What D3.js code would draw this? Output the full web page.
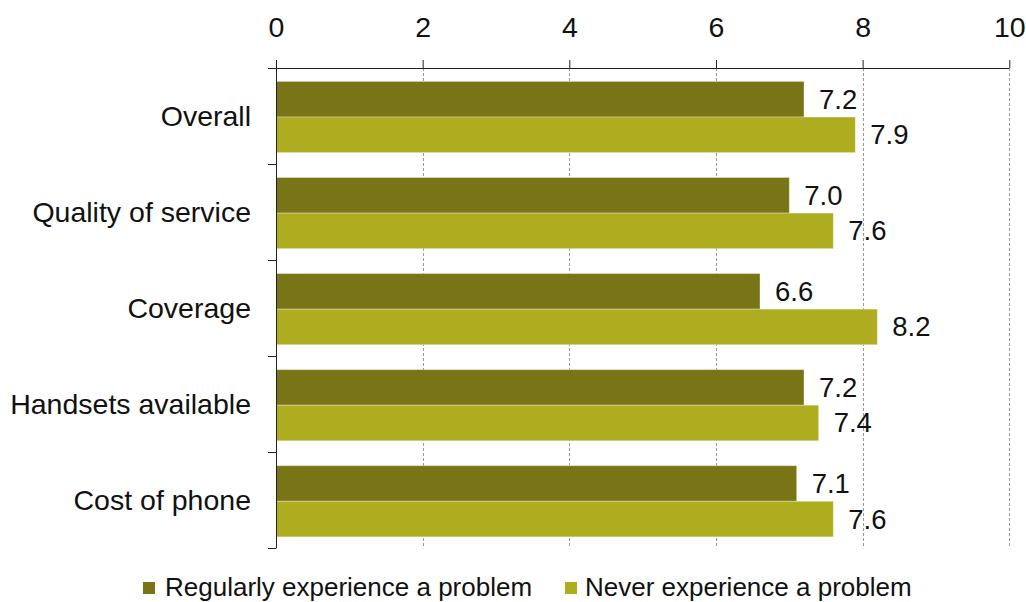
<!DOCTYPE html>
<html>
<head>
<meta charset="utf-8">
<script src="https://cdn.jsdelivr.net/npm/d3@7"></script>
<style>
  html, body { margin: 0; padding: 0; background: #fff; }
  svg { display: block; font-family: "Liberation Sans", Arial, sans-serif; }
</style>
</head>
<body>
<svg id="chart" width="1026" height="602"></svg>
<script>
// Satisfaction scores by aspect, split by problem experience
const categories = ["Overall", "Quality of service", "Coverage", "Handsets available", "Cost of phone"];
const seriesNames = ["Regularly experience a problem", "Never experience a problem"];
const regularlyValues = [7.2, 7.0, 6.6, 7.2, 7.1];
const neverValues = [7.9, 7.6, 8.2, 7.4, 7.6];
const tickValues = [0, 2, 4, 6, 8, 10];

const colors = ["#797516", "#adad1f"];
const seriesValues = [regularlyValues, neverValues];

const svg = d3.select("#chart");

const plot = { left: 276, right: 1009.3, top: 68, bottom: 548.3 };

const x = d3.scaleLinear().domain([0, 10]).range([plot.left, plot.right]);
const y0 = d3.scaleBand().domain(categories).range([plot.top, plot.bottom]).padding(0);
const y1 = d3.scaleBand().domain(seriesNames).range([0, y0.bandwidth()])
  .paddingInner(0).paddingOuter(0.35);

// dashed vertical gridlines
svg.append("g")
  .selectAll("line")
  .data(tickValues.filter(d => d > 0))
  .join("line")
  .attr("x1", d => Math.round(x(d)) + 0.5)
  .attr("x2", d => Math.round(x(d)) + 0.5)
  .attr("y1", plot.top)
  .attr("y2", plot.bottom)
  .attr("stroke", "#9a9a9a")
  .attr("stroke-width", 1)
  .attr("stroke-dasharray", "3,2");

// bars
const rows = categories.map((c, i) => ({ category: c, values: seriesNames.map((s, j) => ({ series: s, idx: j, value: seriesValues[j][i] })) }));

const groups = svg.append("g")
  .selectAll("g")
  .data(rows)
  .join("g")
  .attr("transform", d => `translate(0,${y0(d.category) + 1})`);

groups.selectAll("rect")
  .data(d => d.values)
  .join("rect")
  .attr("x", x(0))
  .attr("y", d => y1(d.series))
  .attr("width", d => x(d.value) - x(0))
  .attr("height", y1.bandwidth())
  .attr("fill", d => colors[d.idx])
  .attr("stroke", "rgba(255,255,255,0.3)")
  .attr("stroke-width", 1);

// value labels
groups.selectAll("text")
  .data(d => d.values)
  .join("text")
  .attr("x", d => x(d.value) + 15)
  .attr("y", d => y1(d.series) + y1.bandwidth() / 2 + 9.5)
  .attr("font-size", "27.5px")
  .attr("fill", "#111")
  .text(d => d3.format(".1f")(d.value));

// top axis
const xAxis = d3.axisTop(x).tickValues(tickValues).tickSize(8).tickPadding(24).tickFormat(d3.format("d"));
const gx = svg.append("g")
  .attr("transform", `translate(0,${plot.top})`)
  .call(xAxis);
gx.select(".domain").attr("stroke", "#222").attr("d", `M${plot.left - 8},0.5H${plot.right}`);
gx.selectAll(".tick line").attr("stroke", "#222");
gx.selectAll(".tick text")
  .attr("font-size", "28.5px")
  .attr("font-family", "Liberation Sans, Arial, sans-serif")
  .attr("fill", "#111")
  .attr("dy", 0)
  .attr("y", 36.5 - plot.top);

// left axis with ticks at category boundaries
const gy = svg.append("g");
gy.append("line")
  .attr("x1", plot.left + 0.5).attr("x2", plot.left + 0.5)
  .attr("y1", plot.top - 8).attr("y2", plot.bottom)
  .attr("stroke", "#222");
const boundaries = categories.map(c => y0(c)).concat([plot.bottom]);
gy.selectAll("line.b")
  .data(boundaries)
  .join("line")
  .attr("class", "b")
  .attr("x1", plot.left - 8).attr("x2", plot.left)
  .attr("y1", d => Math.round(d) + 0.5).attr("y2", d => Math.round(d) + 0.5)
  .attr("stroke", "#222");

// category labels
svg.append("g")
  .selectAll("text")
  .data(categories)
  .join("text")
  .attr("x", 251)
  .attr("y", d => y0(d) + y0.bandwidth() / 2 + 9.8)
  .attr("text-anchor", "end")
  .attr("font-size", "28.5px")
  .attr("fill", "#111")
  .text(d => d);

// legend
const legendX = [143, 565];
const legend = svg.append("g")
  .selectAll("g")
  .data(seriesNames)
  .join("g")
  .attr("transform", (d, i) => `translate(${legendX[i]},582)`);
legend.append("rect")
  .attr("width", 12).attr("height", 12)
  .attr("fill", (d, i) => colors[i]);
legend.append("text")
  .attr("x", (d, i) => i === 0 ? 22 : 20)
  .attr("y", 13.5)
  .attr("font-size", "26px")
  .attr("fill", "#111")
  .text(d => d);
</script>
</body>
</html>
